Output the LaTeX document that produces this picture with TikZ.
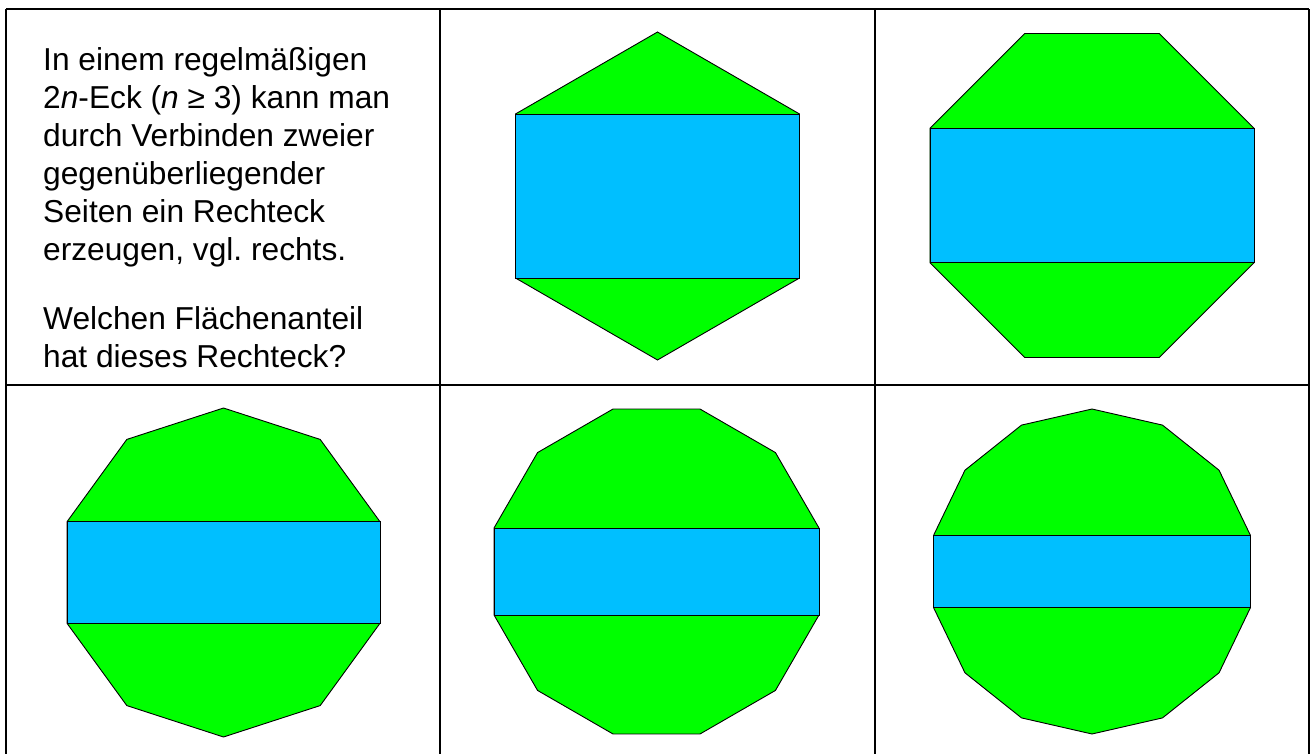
\documentclass[tikz,border=0pt]{standalone}
\usepackage{fontspec}
\setmainfont{Liberation Sans}
\usetikzlibrary{positioning}
\definecolor{eckgruen}{RGB}{0,255,0}
\definecolor{rechteckblau}{RGB}{0,191,255}
\frenchspacing
% (Mittelpunkt)(Eckenzahl:Umkreisradius)
\def\zweineck(#1,#2)(#3:#4){%
	\begin{scope}[shift={(#1,#2)}]
		\pgfmathsetmacro\halbwinkel{180/#3}
		\draw[fill=eckgruen, line width=0.9pt] (\halbwinkel:#4) \foreach \k in {1,...,#3} { -- ({\halbwinkel+\k*360/#3}:#4) } -- cycle;
		\draw[fill=rechteckblau, line width=0.9pt] (\halbwinkel:#4) rectangle ({180+\halbwinkel}:#4);
	\end{scope}}

\begin{document}
\begin{tikzpicture}[x=1pt, y=-1pt]
			%%%%% START %%%%%
			\useasboundingbox (0, 0) rectangle (1314, 754);
			
			\draw[line width=2pt] (6, 9) -- (1309, 9);
			\draw[line width=2pt] (6, 385) -- (1309, 385);
			\draw[line width=2pt] (6, 9) -- (6, 754);
			\draw[line width=2pt] (440, 9) -- (440, 754);
			\draw[line width=2pt] (875, 9) -- (875, 754);
			\draw[line width=2pt] (1309, 9) -- (1309, 754);
			
			\node[anchor=north west, inner sep=0, align=left, font=\fontsize{31.7}{38}\selectfont] (frage1) at (43, 47) {In einem regelmäßigen\\2\textit{n}-Eck (\textit{n} ≥ 3) kann man\\durch Verbinden zweier\\gegenüberliegender\\Seiten ein Rechteck\\erzeugen, vgl. rechts.};
			\node[below right=39pt and 0pt of frage1.south west, inner sep=0, align=left, font=\fontsize{31.7}{38}\selectfont] (frage2) {Welchen Flächenanteil\\hat dieses Rechteck?};
			
			\zweineck(657.5, 196)(6:164)
			\zweineck(1092, 195.5)(8:175.4)
			\zweineck(223.5, 572.5)(10:164.5)
			\zweineck(656.5, 571.5)(12:168.2)
			\zweineck(1092, 571.5)(14:162.5)
			
			%%%%% END %%%%%
\end{tikzpicture}
\end{document}
